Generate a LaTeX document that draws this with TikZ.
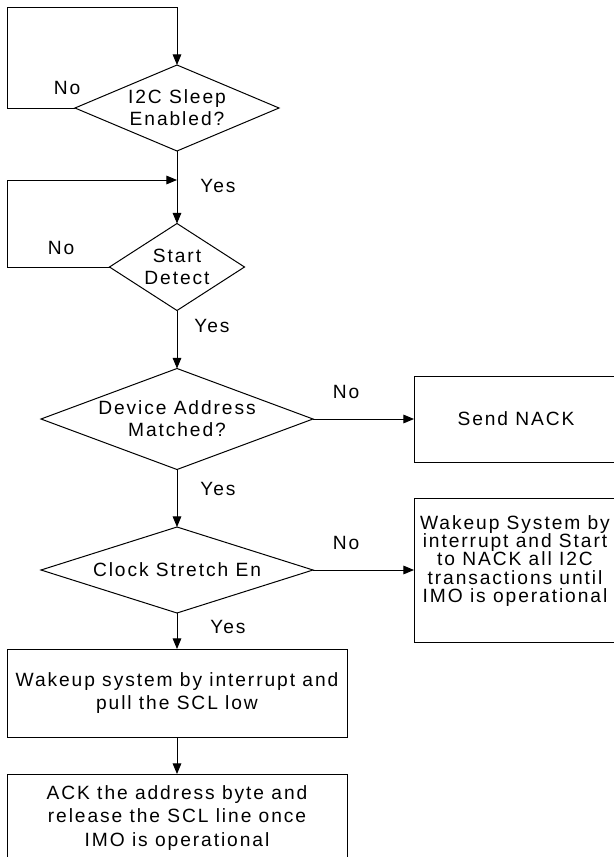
\documentclass[tikz,border=0pt]{standalone}
\usepackage{fontspec}
\setmainfont{Liberation Sans}[LetterSpace=10]
\usetikzlibrary{shapes.geometric,arrows.meta}
\begin{document}
\begin{tikzpicture}[x=0.75pt,y=-0.75pt,
  line width=0.75pt,
  font=\fontsize{14.4}{16.5}\selectfont,
  arr/.style={-{Triangle[length=8pt,width=6.5pt]}},
  dia/.style={diamond,draw,inner sep=0pt,outer sep=0pt},
  box/.style={rectangle,draw,inner sep=0pt,outer sep=0pt,align=center},
  txt/.style={inner sep=0pt,align=center},
  lbl/.style={inner sep=0pt}]
\useasboundingbox (0,0) rectangle (614,857);
\clip (0,0) rectangle (614,857);
\fill[white] (0,0) rectangle (614,857);
% decisions
\node[dia,minimum width=153pt,minimum height=64.5pt] (d1) at (177,108) {};
\node[txt] (t1) at (d1) {I2C Sleep\\Enabled?};
\node[dia,minimum width=101.25pt,minimum height=65.25pt] (d2) at (177,267) {};
\node[txt] (t2) at (d2) {Start\\Detect};
\node[dia,minimum width=204pt,minimum height=75.75pt] (d3) at (177,419) {};
\node[txt] (t3) at (d3) {Device Address\\Matched?};
\node[dia,minimum width=204pt,minimum height=64.5pt] (d4) at (177,570) {};
\node[txt] (t4) at (d4) {Clock Stretch En};
% boxes
\node[box,minimum width=153pt,minimum height=64.5pt] (nack) at (516,419) {Send NACK};
\node[box,minimum width=153pt,minimum height=108pt] (wake) at (516,570) {};
\node[txt,font=\fontsize{14.4}{13.7}\selectfont] (waketxt) at (515,561)
  {Wakeup System by\\interrupt and Start\\to NACK all I2C\\transactions until\\IMO is operational};
\node[box,minimum width=255pt,minimum height=66pt,
  font=\fontsize{14.4}{17.25}\selectfont] (b5) at (177,693)
  {Wakeup system by interrupt and\\pull the SCL low};
\node[box,minimum width=255pt,minimum height=66pt,
  font=\fontsize{14.4}{17.5}\selectfont] (b6) at (177,818)
  {ACK the address byte and\\release the SCL line once\\IMO is operational};
% loop corners
\coordinate (lp1) at (7,7);
\coordinate (lp2) at (7,180);
\coordinate (j2) at (177,180);
% connectors
\draw[arr] (d1.west) -| (lp1) -| (d1.north);
\draw[arr] (d1.south) -- (d2.north);
\draw[arr] (d2.west) -| (lp2) -- (j2);
\draw[arr] (d2.south) -- (d3.north);
\draw[arr] (d3.east) -- (nack.west);
\draw[arr] (d3.south) -- (d4.north);
\draw[arr] (d4.east) -- (wake.west);
\draw[arr] (d4.south) -- (b5.north);
\draw[arr] (b5.south) -- (b6.north);
% labels
\node[lbl] (no1) at (67,88) {No};
\node[lbl] (yes1) at (218,186) {Yes};
\node[lbl] (no2) at (61,248) {No};
\node[lbl] (yes2) at (212,326) {Yes};
\node[lbl] (no3) at (346,392) {No};
\node[lbl] (yes3) at (218,489) {Yes};
\node[lbl] (no4) at (346,543) {No};
\node[lbl] (yes4) at (228,627) {Yes};
\end{tikzpicture}
\end{document}
